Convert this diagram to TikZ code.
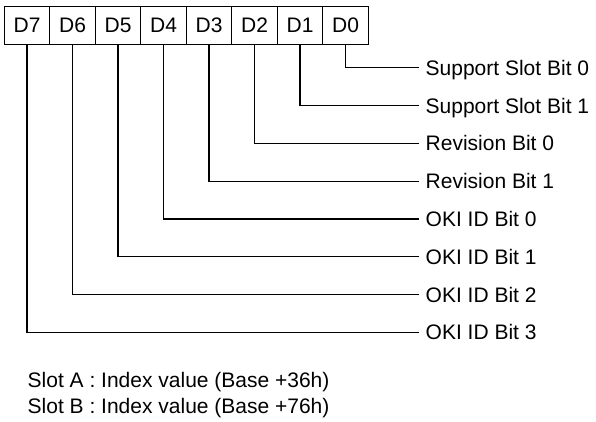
\documentclass[tikz,border=0pt]{standalone}
\usepackage{fontspec}
\setmainfont{Liberation Sans}
\usetikzlibrary{positioning}

\begin{document}
\begin{tikzpicture}[x=1pt,y=-1pt,
    bitbox/.style={draw,line width=1.2pt,minimum width=45.5pt,minimum height=38pt,
      inner sep=0pt,outer sep=0pt,font=\fontsize{21}{25}\selectfont},
    bitname/.style={anchor=west,inner xsep=6.5pt,inner ysep=0pt,text height=15pt,
      text depth=0pt,font=\fontsize{21}{25}\selectfont},
    bitlead/.style={line width=1.2pt}]
                        \useasboundingbox (0,0) rectangle (596,421);

                        % Drawing register boxes
                        \node [bitbox,anchor=north west] (d7) at (4.3,6.2) {D7};%
                        \node [bitbox,right=0pt of d7] (d6) {D6};%
                        \node [bitbox,right=0pt of d6] (d5) {D5};%
                        \node [bitbox,right=0pt of d5] (d4) {D4};%
                        \node [bitbox,right=0pt of d4] (d3) {D3};%
                        \node [bitbox,right=0pt of d3] (d2) {D2};%
                        \node [bitbox,right=0pt of d2] (d1) {D1};%
                        \node [bitbox,right=0pt of d1] (d0) {D0};%

                        % Marking bit names
                        \node [bitname] (n0) at (419,67.5) {Support Slot Bit 0};%
                        \node [bitname] (n1) at (419,105.5) {Support Slot Bit 1};%
                        \node [bitname] (n2) at (419,143.3) {Revision Bit 0};%
                        \node [bitname] (n3) at (419,181.2) {Revision Bit 1};%
                        \node [bitname] (n4) at (419,219) {OKI ID Bit 0};%
                        \node [bitname] (n5) at (419,256.8) {OKI ID Bit 1};%
                        \node [bitname] (n6) at (419,294.6) {OKI ID Bit 2};%
                        \node [bitname] (n7) at (419,332.4) {OKI ID Bit 3};%

                        % Drawing leads from bits to names
                        \draw [bitlead] (d0.south) |- (n0.west);%
                        \draw [bitlead] (d1.south) |- (n1.west);%
                        \draw [bitlead] (d2.south) |- (n2.west);%
                        \draw [bitlead] (d3.south) |- (n3.west);%
                        \draw [bitlead] (d4.south) |- (n4.west);%
                        \draw [bitlead] (d5.south) |- (n5.west);%
                        \draw [bitlead] (d6.south) |- (n6.west);%
                        \draw [bitlead] (d7.south) |- (n7.west);%

                        % Marking slot notes
                        \node [anchor=base west,inner sep=0pt,font=\fontsize{21}{25}\selectfont] (slota) at (27.5,387.3) {Slot A : Index value (Base +36h)};%
                        \node [anchor=base west,inner sep=0pt,font=\fontsize{21}{25}\selectfont] (slotb) at (27.5,413.3) {Slot B : Index value (Base +76h)};%
\end{tikzpicture}
\end{document}
